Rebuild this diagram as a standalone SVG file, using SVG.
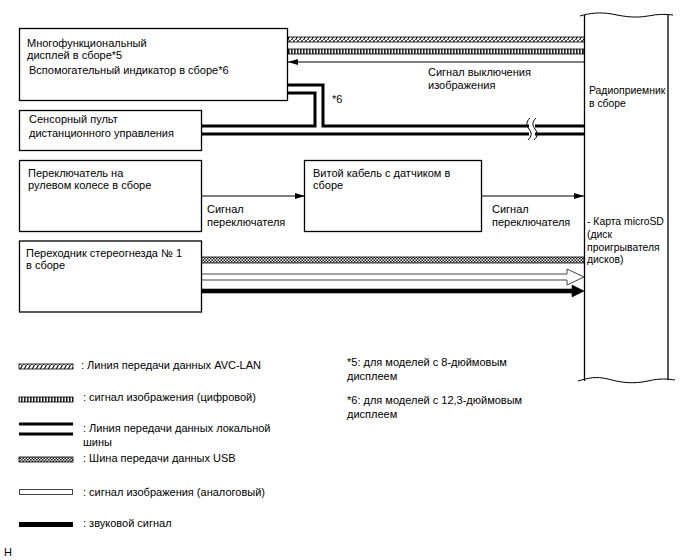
<svg xmlns="http://www.w3.org/2000/svg" width="688" height="560" viewBox="0 0 688 560">
<defs>
<pattern id="hatch" patternUnits="userSpaceOnUse" width="4" height="5">
<rect width="4" height="5" fill="#fff"/>
<path d="M-1,6 L3,-1 M3,6 L7,-1" stroke="#000" stroke-width="1.1"/>
</pattern>
<pattern id="vstripe" patternUnits="userSpaceOnUse" width="3" height="5">
<rect width="3" height="5" fill="#fff"/>
<rect x="0" width="1.6" height="5" fill="#222"/>
</pattern>
<pattern id="check" patternUnits="userSpaceOnUse" width="3" height="3">
<rect width="3" height="3" fill="#fff"/>
<rect width="1.5" height="1.5" fill="#111"/>
<rect x="1.5" y="1.5" width="1.5" height="1.5" fill="#111"/>
</pattern>
<marker id="ah" viewBox="0 0 10 6" refX="10" refY="3" markerWidth="10" markerHeight="6" markerUnits="userSpaceOnUse" orient="auto">
<path d="M0,0 L10,3 L0,6 Z" fill="#000"/>
</marker>
</defs>
<style>
text{font-family:"Liberation Sans",Arial,sans-serif;font-size:11px;fill:#000}
text.r{font-size:10.4px}
.box{fill:#fff;stroke:#000;stroke-width:1.3}
.sig{stroke:#000;stroke-width:1;fill:none}
.bus{stroke:#000;stroke-width:3;fill:none}
.band{stroke:#000;stroke-width:0.8}
</style>
<rect width="688" height="560" fill="#fff"/>

<g id="connectors">
<rect class="band" x="288" y="37" width="296" height="5" fill="url(#hatch)"/>
<rect class="band" x="288" y="49" width="296" height="5" fill="url(#vstripe)"/>
<line class="sig" x1="584" y1="62" x2="288" y2="62" marker-end="url(#ah)"/>
<path class="bus" d="M288,85 H323 V126 H584"/>
<path class="bus" d="M288,93 H315 V126 H201"/>
<path class="bus" d="M201,134 H584"/>
<rect x="529" y="118" width="6" height="22" fill="#fff"/>
<path d="M530,118 C526,122 526,125 529,129 C532,133 532,136 528,140" fill="none" stroke="#000" stroke-width="1"/>
<path d="M536,118 C532,122 532,125 535,129 C538,133 538,136 534,140" fill="none" stroke="#000" stroke-width="1"/>
<line class="sig" x1="201" y1="196" x2="305" y2="196" marker-end="url(#ah)"/>
<line class="sig" x1="481" y1="196" x2="584" y2="196" marker-end="url(#ah)"/>
<rect class="band" x="201" y="257" width="383" height="6" fill="url(#check)"/>
<path d="M201,274 H567 V269 L584,277 L567,285 V280 H201" fill="#fff" stroke="#444" stroke-width="1"/>
<path d="M201,289 H572 V285 L584,291 L572,297 V293 H201 Z" fill="#000" stroke="#000" stroke-width="0.6"/>
<text x="332" y="103">*6</text>
<text x="428" y="76">Сигнал выключения</text>
<text x="428" y="89">изображения</text>
<text x="207" y="213">Сигнал</text>
<text x="207" y="226">переключателя</text>
<text x="492" y="213">Сигнал</text>
<text x="492" y="226">переключателя</text>
</g>

<g id="node-display">
<rect class="box" x="19.5" y="28.5" width="268" height="72"/>
<text x="27" y="47">Многофункциональный</text>
<text x="27" y="59">дисплей в сборе*5</text>
<text x="29" y="74">Вспомогательный индикатор в сборе*6</text>
</g>
<g id="node-remote">
<rect class="box" x="19.5" y="110.5" width="182" height="40"/>
<text x="29" y="123">Сенсорный пульт</text>
<text x="29" y="137">дистанционного управления</text>
</g>
<g id="node-switch">
<rect class="box" x="19.5" y="160.5" width="182" height="71"/>
<text x="28" y="177">Переключатель на</text>
<text x="28" y="189">рулевом колесе в сборе</text>
</g>
<g id="node-spiral">
<rect class="box" x="304.5" y="160.5" width="177" height="71"/>
<text x="313" y="177">Витой кабель с датчиком в</text>
<text x="313" y="189">сборе</text>
</g>
<g id="node-stereo">
<rect class="box" x="19.5" y="241" width="182" height="71"/>
<text x="26" y="257">Переходник стереогнезда № 1</text>
<text x="26" y="269">в сборе</text>
</g>
<g id="node-radio">
<path d="M584,16 C592,13 600,12 612,14 C626,17 636,18 648,16 C658,14 666,14 673,15 L668,15 V380 C660,378 654,377 646,379 C634,383 622,383 610,380 C600,377 590,378 578,381 L584,381 Z" fill="#fff" stroke="none"/>
<path d="M580,16 C590,13 600,12 612,14 C626,17 636,18 648,16 C658,14 666,14 673,15" fill="none" stroke="#000" stroke-width="1"/>
<path d="M578,381 C588,378 596,376 608,379 C622,383 634,384 648,381 C660,378 668,379 675,380" fill="none" stroke="#000" stroke-width="1"/>
<line x1="584.5" y1="15" x2="584.5" y2="381" stroke="#000" stroke-width="1.3"/>
<line x1="668" y1="15" x2="668" y2="380" stroke="#000" stroke-width="1.3"/>
<text class="r" x="589" y="94">Радиоприемник</text>
<text class="r" x="589" y="107">в сборе</text>
<text class="r" x="587" y="225">- Карта microSD</text>
<text class="r" x="587" y="238">(диск</text>
<text class="r" x="587" y="251">проигрывателя</text>
<text class="r" x="587" y="263">дисков)</text>
</g>

<g id="legend">
<rect class="band" x="19" y="364" width="54" height="5" fill="url(#hatch)"/>
<text x="81" y="369">: Линия передачи данных AVC-LAN</text>
<rect class="band" x="19" y="397" width="54" height="5" fill="url(#vstripe)"/>
<text x="83" y="401">: сигнал изображения (цифровой)</text>
<line x1="19" y1="424" x2="73" y2="424" stroke="#000" stroke-width="3"/>
<line x1="19" y1="434" x2="73" y2="434" stroke="#000" stroke-width="3"/>
<text x="83" y="432">: Линия передачи данных локальной</text>
<text x="83" y="446">шины</text>
<rect class="band" x="19" y="457" width="54" height="5" fill="url(#check)"/>
<text x="83" y="462">: Шина передачи данных USB</text>
<rect x="19.5" y="489.5" width="53" height="5" fill="#fff" stroke="#444" stroke-width="1"/>
<text x="83" y="496">: сигнал изображения (аналоговый)</text>
<rect x="19" y="522" width="54" height="5" fill="#000"/>
<text x="83" y="527">: звуковой сигнал</text>
<text x="347" y="366">*5: для моделей с 8-дюймовым</text>
<text x="347" y="380">дисплеем</text>
<text x="347" y="404">*6: для моделей с 12,3-дюймовым</text>
<text x="347" y="418">дисплеем</text>
<text x="4" y="556">H</text>
</g>
</svg>
